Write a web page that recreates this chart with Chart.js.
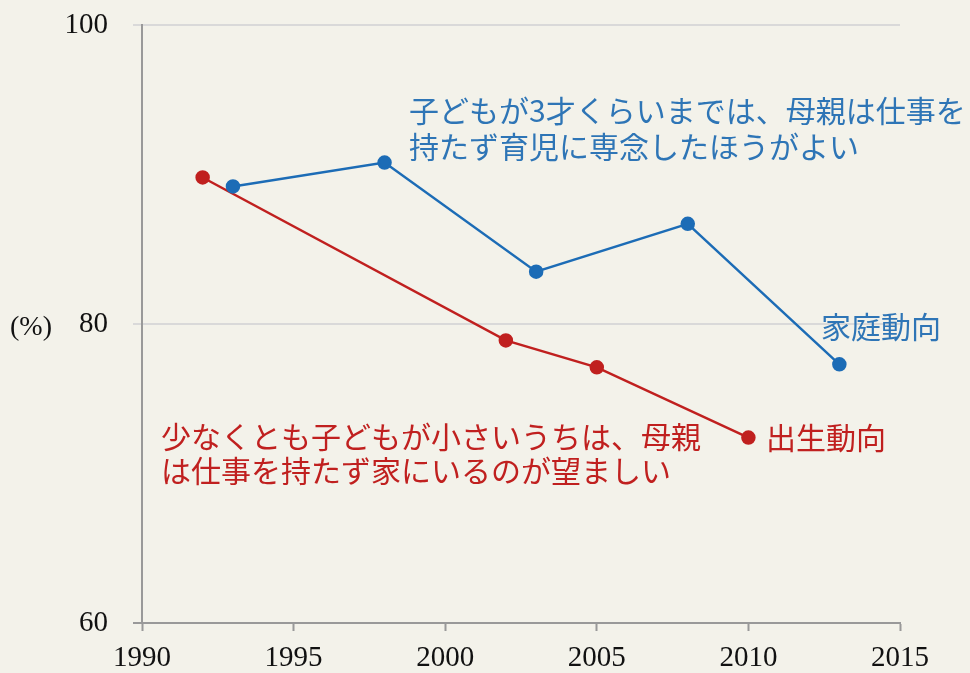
<!DOCTYPE html>
<html>
<head>
<meta charset="utf-8">
<script src="https://cdn.jsdelivr.net/npm/chart.js@4"></script>
<style>
  body { margin: 0; background: #f3f2ea; }
  #wrap { width: 970px; height: 673px; }
</style>
</head>
<body>
<div id="wrap"><canvas id="chart"></canvas></div>
<script>
// Data
const kateiYears = [1993, 1998, 2003, 2008, 2013];
const kateiValues = [89.2, 90.8, 83.5, 86.7, 77.3];
const shusshoYears = [1992, 2002, 2005, 2010];
const shusshoValues = [89.8, 78.9, 77.1, 72.4];
const xTicks = [1990, 1995, 2000, 2005, 2010, 2015];
const yTicks = [60, 80, 100];

const blue = '#1c6cb6';
const red = '#c0201f';
const jpFont = '"Noto Sans CJK JP", sans-serif';
const numFont = '"Liberation Serif", "DejaVu Serif", serif';

const toPoints = (xs, ys) => xs.map((x, i) => ({ x: x, y: ys[i] }));

// Text labels drawn on top
const labelPlugin = {
  id: 'labels',
  afterDraw(chart) {
    const ctx = chart.ctx;
    ctx.save();
    ctx.textBaseline = 'middle';
    ctx.textAlign = 'left';
    ctx.font = '30px ' + jpFont;
    ctx.fillStyle = '#2e75b6';
    ctx.fillText('子どもが3才くらいまでは、母親は仕事を', 409, 111);
    ctx.fillText('持たず育児に専念したほうがよい', 409, 147);
    ctx.fillText('家庭動向', 821, 327);
    ctx.fillStyle = red;
    ctx.fillText('少なくとも子どもが小さいうちは、母親', 161, 437);
    ctx.fillText('は仕事を持たず家にいるのが望ましい', 161, 471);
    ctx.fillText('出生動向', 766, 438);
    ctx.font = '28px ' + numFont;
    ctx.fillStyle = '#111';
    ctx.fillText('(%)', 10, 328);
    ctx.restore();
  }
};

new Chart(document.getElementById('chart').getContext('2d'), {
  type: 'scatter',
  data: {
    datasets: [
      {
        label: '家庭動向',
        data: toPoints(kateiYears, kateiValues),
        showLine: true,
        borderColor: blue,
        backgroundColor: blue,
        borderWidth: 2.5,
        pointRadius: 6,
        pointHoverRadius: 6,
      },
      {
        label: '出生動向',
        data: toPoints(shusshoYears, shusshoValues),
        showLine: true,
        borderColor: red,
        backgroundColor: red,
        borderWidth: 2.5,
        pointRadius: 6,
        pointHoverRadius: 6,
      },
    ],
  },
  options: {
    responsive: true,
    maintainAspectRatio: false,
    animation: false,
    layout: { padding: { top: 25, right: 70, left: 0, bottom: 0 } },
    plugins: { legend: { display: false }, tooltip: { enabled: false } },
    scales: {
      x: {
        type: 'linear',
        min: 1990,
        max: 2015,
        afterBuildTicks: (scale) => { scale.ticks = xTicks.map(v => ({ value: v })); },
        afterFit: (scale) => {
          scale.height = 50;
          scale.paddingLeft = 0;
          scale.paddingRight = 0;
        },
        ticks: {
          color: '#111',
          font: { family: numFont, size: 29 },
          padding: 10,
          maxRotation: 0,
          callback: (v) => String(v),
        },
        grid: {
          drawOnChartArea: false,
          drawTicks: true,
          tickLength: 8,
          tickColor: '#999',
          tickWidth: 2,
        },
        border: { color: '#999', width: 2 },
      },
      y: {
        min: 60,
        max: 100,
        afterBuildTicks: (scale) => { scale.ticks = yTicks.map(v => ({ value: v })); },
        afterFit: (scale) => {
          scale.width = 142;
          scale.paddingTop = 0;
          scale.paddingBottom = 0;
        },
        ticks: {
          color: '#111',
          font: { family: numFont, size: 29 },
          padding: 25,
        },
        grid: {
          color: (c) => (c.tick && c.tick.value === 60 ? '#999' : '#d9d9d9'),
          tickColor: (c) => (c.tick && c.tick.value === 60 ? '#999' : '#d9d9d9'),
          lineWidth: 2,
          tickLength: 9,
        },
        border: { color: '#999', width: 2 },
      },
    },
  },
  plugins: [labelPlugin],
});
</script>
</body>
</html>
